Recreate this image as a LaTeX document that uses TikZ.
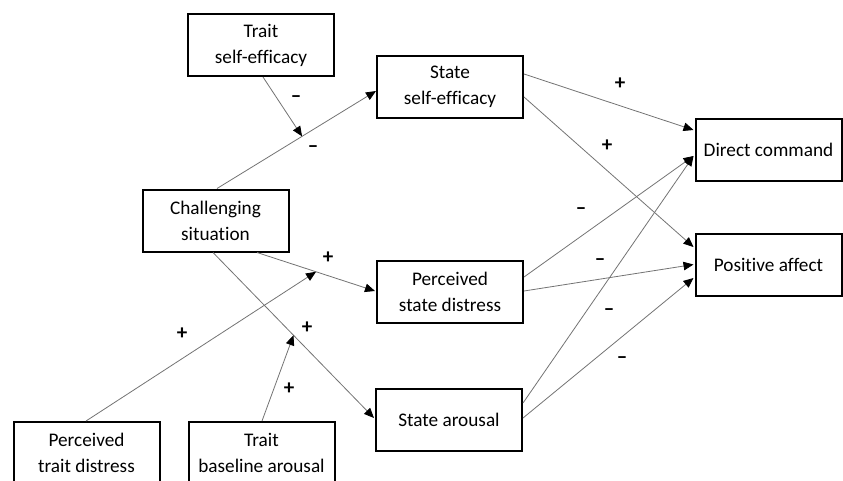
\documentclass[tikz,border=0pt]{standalone}
\usepackage{fontspec}
\setmainfont[Ligatures=NoCommon]{Carlito}
\usetikzlibrary{arrows.meta}
\tikzset{
  box/.style={draw=black, line width=2pt, minimum width=146pt, minimum height=62pt, inner sep=0pt, align=center, font=\fontsize{19.25}{26}\selectfont},
  conn/.style={draw=black!55, line width=0.8pt, -{Triangle[length=10pt,width=8.5pt,color=black]}},
  sgn/.style={font=\fontsize{21}{21}\selectfont\bfseries, inner sep=0pt},
}
\begin{document}
\begin{tikzpicture}[x=1pt,y=-1pt]
\useasboundingbox (0,0) rectangle (843,480);
\clip (0,0) rectangle (843,480);
\node[box] (tse) at (261,45) {Trait\\self-efficacy};
\node[box] (sse) at (450,86.5) {State\\self-efficacy};
\node[box] (cs) at (215.5,220.5) {Challenging\\situation};
\node[box] (psd) at (450,292) {Perceived\\state distress};
\node[box] (sa) at (449,420) {State arousal};
\node[box] (dc) at (768.5,150) {Direct command};
\node[box] (pa) at (768.5,264.5) {Positive affect};
\node[box] (ptd) at (86.5,453) {Perceived\\trait distress};
\node[box] (tba) at (261.5,453) {Trait\\baseline arousal};

\draw[conn] ([xshift=1.5pt]cs.north) -- coordinate[pos=0.535] (m1) ([yshift=-4.5pt]sse.west);
\draw[conn] ([xshift=2pt]tse.south) -- (m1);
\draw[conn] ([yshift=12.5pt]sse.east) -- ([yshift=20pt,xshift=-1pt]dc.west);
\draw[conn] ([yshift=-10.5pt]sse.east) -- ([yshift=17.5pt,xshift=-1pt]pa.west);
\draw[conn] ([xshift=41.5pt]cs.south) -- coordinate[pos=0.5] (m2) ([yshift=1pt,xshift=-1pt]psd.west);
\draw[conn] ([xshift=-0.5pt]ptd.north) -- (m2);
\draw[conn] ([xshift=-2.5pt]cs.south) -- coordinate[pos=0.5] (m3) ([yshift=2pt,xshift=-1pt]sa.west);
\draw[conn] ([xshift=0.5pt]tba.north) -- (m3);
\draw[conn] ([yshift=15pt]psd.east) -- ([yshift=-6pt,xshift=-1pt]dc.west);
\draw[conn] ([yshift=1pt]psd.east) -- ([xshift=-1pt]pa.west);
\draw[conn] ([yshift=17pt]sa.east) -- ([yshift=-6pt,xshift=-1pt]dc.west);
\draw[conn] ([yshift=2pt]sa.east) -- ([yshift=-13.5pt,xshift=-1pt]pa.west);

\node[sgn] (l1) at (296,99) {–};
\node[sgn] (l2) at (313,149) {–};
\node[sgn] (l3) at (620,84) {+};
\node[sgn] (l4) at (607,146) {+};
\node[sgn] (l5) at (328,258) {+};
\node[sgn] (l6) at (182,334) {+};
\node[sgn] (l7) at (307,328) {+};
\node[sgn] (l8) at (289,389) {+};
\node[sgn] (l9) at (581,211) {–};
\node[sgn] (l10) at (600,262) {–};
\node[sgn] (l11) at (609,312) {–};
\node[sgn] (l12) at (622,360) {–};
\end{tikzpicture}
\end{document}
